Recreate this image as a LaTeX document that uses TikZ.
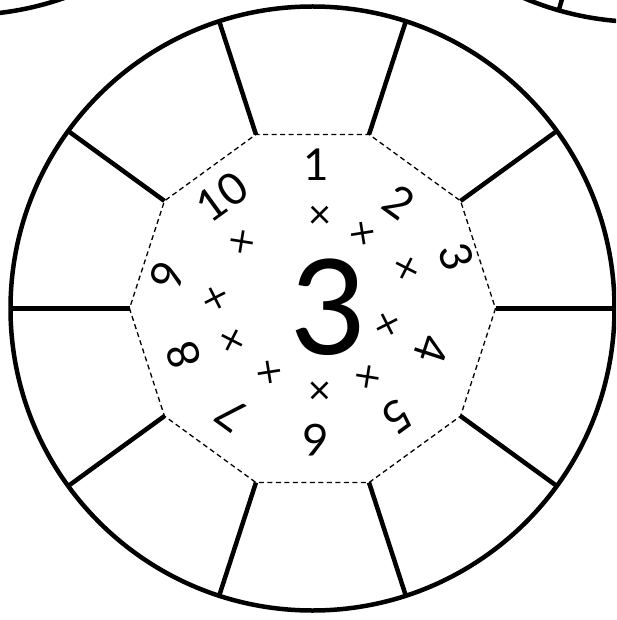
\documentclass[tikz,border=0pt]{standalone}
\usepackage{fontspec}
\setmainfont{Lato}
\usetikzlibrary{calc}
\begin{document}
\begin{tikzpicture}[x=1pt,y=-1pt,
  rim/.style={line width=4.5pt},
  spoke/.style={line width=4.5pt},
  dec/.style={line width=1.3pt, dash pattern=on 5pt off 3.5pt},
  num/.style={font=\fontsize{44}{44}\selectfont, inner sep=0pt},
  tms/.style={font=\fontsize{40}{40}\selectfont, inner sep=0pt},
  big/.style={font=\fontsize{132}{132}\selectfont, inner sep=0pt}]
\useasboundingbox (0,0) rectangle (616,620);
\begin{scope}
\clip (0,0) rectangle (616,620);
% neighbouring circles
\coordinate (L) at (-36,-287);
\coordinate (R) at (642,-280);
\draw[rim] (L) circle[radius=302pt];
\draw[rim] (R) circle[radius=302pt];
\coordinate (ra) at ($(R)+(106:183)$);
\coordinate (rb) at ($(R)+(106:302)$);
\draw[spoke] (ra) -- (rb);
% main wheel
\coordinate (C) at (312.5,308.5);
\draw[rim] (C) circle[radius=302pt];
\foreach \i in {0,...,9}{
  \coordinate (v\i) at ($(C)+(\i*36:183)$);
  \coordinate (o\i) at ($(C)+(\i*36:302)$);
}
\draw[dec] (v0) -- (v1) -- (v2) -- (v3) -- (v4) -- (v5) -- (v6) -- (v7) -- (v8) -- (v9) -- cycle;
\foreach \i in {0,...,9}{
  \draw[spoke] (v\i) -- (o\i);
}
\end{scope}
% centre number
\node[big] (three) at (329,307) {3};
% multiplicands
\node[num, rotate=0]    (n1)  at (316,165)   {1};
\node[num, rotate=-36]  (n2)  at (399,202)   {2};
\node[num, rotate=-72]  (n3)  at (456,257)   {3};
\node[num, rotate=-108] (n4)  at (432,350)   {4};
\node[num, rotate=-144] (n5)  at (397,416.5) {5};
\node[num, rotate=-180] (n6)  at (316,440)   {6};
\node[num, rotate=-216] (n7)  at (232,414.5) {7};
\node[num, rotate=-252] (n8)  at (184,355.6) {8};
\node[num, rotate=-288] (n9)  at (167,275)   {9};
\node[num, rotate=-324] (n10) at (222,196.5) {10};
% times signs
\node[tms, rotate=0]    (t1)  at (320,217)     {×};
\node[tms, rotate=-36]  (t2)  at (361.5,235)   {×};
\node[tms, rotate=-72]  (t3)  at (405,269)     {×};
\node[tms, rotate=-108] (t4)  at (385,324)     {×};
\node[tms, rotate=-144] (t5)  at (367,375)     {×};
\node[tms, rotate=-180] (t6)  at (320,389)     {×};
\node[tms, rotate=-216] (t7)  at (271,371)     {×};
\node[tms, rotate=-252] (t8)  at (234.6,340)   {×};
\node[tms, rotate=-288] (t9)  at (218,298.6)   {×};
\node[tms, rotate=-324] (t10) at (243.6,243.6) {×};
\end{tikzpicture}
\end{document}
